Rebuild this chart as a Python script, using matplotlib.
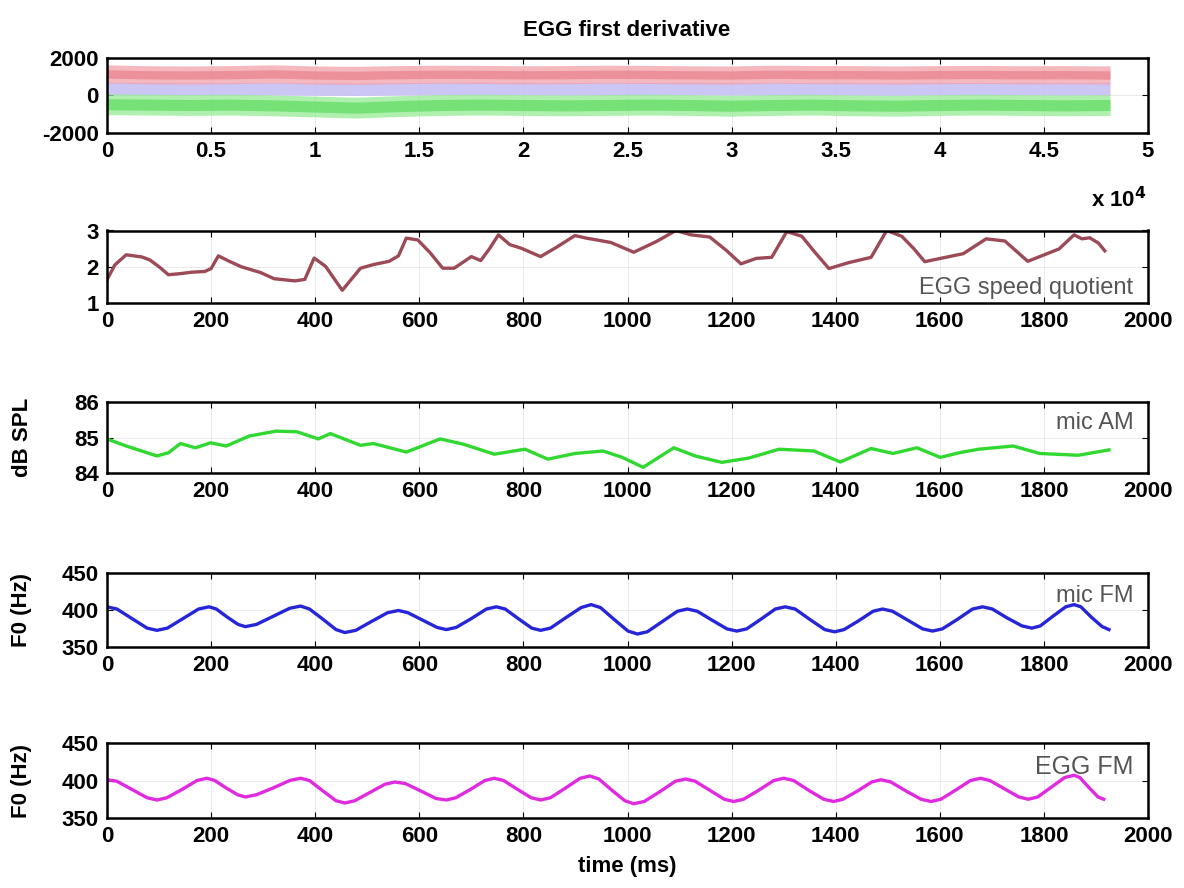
# -*- coding: utf-8 -*-
# EGG first derivative + speed quotient / AM / FM panels
import matplotlib
matplotlib.use('Agg')
import matplotlib.pyplot as plt

# --- panel 1: EGG first derivative bands (x in samples) ---
band_x = [0, 2000, 4000, 6000, 8000, 10000, 12000, 14000, 16000, 18000, 20000, 22000, 24000,
          26000, 28000, 30000, 32000, 34000, 36000, 38000, 40000, 42000, 44000, 46000, 48200]
red_c = [1100, 1050, 1040, 1060, 1100, 1040, 1020, 1060, 1080, 1070, 1050, 1060, 1080,
         1070, 1050, 1040, 1080, 1060, 1060, 1040, 1060, 1070, 1050, 1060, 1040]
lav_c = [320, 310, 300, 300, 310, 290, 280, 300, 310, 320, 310, 300, 300,
         310, 320, 300, 300, 310, 300, 290, 310, 300, 310, 300, 300]
green_c = [-520, -540, -560, -540, -580, -640, -700, -620, -560, -540, -560, -580, -560,
           -540, -560, -600, -560, -540, -580, -600, -560, -540, -560, -580, -560]

# --- panel 2: EGG speed quotient ---
sq_t = [0, 15, 37, 67, 82, 100, 118, 141, 163, 188, 200, 214, 235, 258, 295, 321, 361, 380, 398, 420,
        452, 487, 512, 542, 560, 575, 597, 620, 645, 667, 700, 718, 735, 752, 774, 796, 833, 865, 899, 921,
        968, 1012, 1056, 1093, 1122, 1158, 1190, 1218, 1247, 1277, 1306, 1335, 1360, 1387, 1424, 1468,
        1498, 1527, 1550, 1571, 1601, 1645, 1689, 1725, 1769, 1806, 1829, 1858, 1873, 1888, 1905, 1917]
sq_v = [1.64, 2.05, 2.33, 2.27, 2.19, 2.0, 1.78, 1.81, 1.85, 1.87, 1.95, 2.30, 2.15, 2.0, 1.84, 1.67,
        1.61, 1.65, 2.24, 2.01, 1.35, 1.96, 2.06, 2.15, 2.3, 2.79, 2.74, 2.4, 1.96, 1.96, 2.28, 2.17,
        2.5, 2.88, 2.61, 2.51, 2.28, 2.55, 2.86, 2.79, 2.67, 2.40, 2.70, 3.0, 2.88, 2.82, 2.45, 2.08,
        2.23, 2.26, 2.97, 2.84, 2.4, 1.95, 2.11, 2.26, 3.0, 2.84, 2.5, 2.14, 2.23, 2.36, 2.77, 2.71,
        2.15, 2.36, 2.49, 2.88, 2.77, 2.80, 2.65, 2.44]

# --- panel 3: mic AM (dB SPL) ---
am_t = [0, 37, 96, 118, 141, 170, 199, 229, 273, 325, 365, 406, 429, 487, 512, 575, 640, 685, 744, 803,
        847, 899, 953, 990, 1030, 1089, 1130, 1181, 1233, 1291, 1358, 1409, 1468, 1510, 1556, 1601,
        1640, 1675, 1704, 1741, 1792, 1866, 1925]
am_v = [84.96, 84.76, 84.48, 84.57, 84.83, 84.71, 84.85, 84.76, 85.04, 85.18, 85.16, 84.96, 85.11,
        84.78, 84.83, 84.59, 84.96, 84.81, 84.53, 84.67, 84.39, 84.55, 84.62, 84.44, 84.16, 84.71,
        84.48, 84.30, 84.42, 84.67, 84.62, 84.31, 84.69, 84.55, 84.71, 84.44, 84.58, 84.67, 84.71,
        84.76, 84.55, 84.50, 84.65]

# --- panel 4: mic FM (Hz) ---
mfm_t = [0, 19, 48, 77, 96, 116, 146, 176, 196, 210, 231, 252, 266, 287, 319, 351, 372, 389, 415, 440,
         457, 478, 508, 539, 560, 578, 606, 634, 652, 671, 700, 729, 748, 765, 790, 816, 833, 852, 881,
         911, 930, 948, 974, 1001, 1019, 1038, 1067, 1096, 1115, 1134, 1162, 1191, 1210, 1229, 1256,
         1284, 1303, 1322, 1350, 1379, 1398, 1416, 1444, 1472, 1490, 1509, 1538, 1567, 1586, 1605,
         1634, 1663, 1682, 1701, 1729, 1758, 1777, 1793, 1817, 1842, 1858, 1871, 1891, 1912, 1925]
mfm_v = [404, 401, 388, 375, 372, 375, 388, 401, 404, 401, 390, 380, 377, 380, 391, 402, 405, 401, 387,
         373, 369, 372, 384, 396, 399, 396, 386, 376, 373, 376, 388, 401, 404, 401, 388, 375, 372, 375,
         389, 403, 407, 403, 387, 371, 367, 370, 384, 398, 401, 398, 386, 374, 371, 374, 387, 401, 404,
         401, 387, 373, 370, 373, 385, 398, 401, 398, 386, 374, 371, 374, 387, 401, 404, 401, 389, 378,
         375, 378, 391, 404, 407, 404, 390, 377, 373]

# --- panel 5: EGG FM (Hz) ---
efm_t = [0, 19, 48, 77, 96, 115, 144, 173, 192, 207, 229, 251, 266, 287, 319, 351, 372, 389, 415, 440,
         457, 476, 505, 534, 553, 573, 603, 632, 652, 670, 698, 726, 744, 762, 789, 815, 833, 852, 881,
         909, 928, 945, 970, 995, 1012, 1032, 1062, 1092, 1112, 1130, 1158, 1186, 1204, 1223, 1252,
         1281, 1300, 1319, 1348, 1377, 1396, 1414, 1442, 1469, 1487, 1506, 1535, 1564, 1583, 1602,
         1630, 1659, 1678, 1696, 1724, 1752, 1770, 1788, 1814, 1840, 1858, 1869, 1886, 1904, 1915]
efm_v = [401, 399, 388, 377, 374, 377, 388, 400, 403, 400, 390, 381, 378, 381, 390, 400, 403, 400, 386,
         373, 370, 373, 384, 395, 398, 396, 386, 376, 374, 377, 388, 400, 403, 400, 388, 377, 374, 377,
         390, 403, 406, 402, 387, 373, 369, 372, 385, 399, 402, 399, 387, 375, 372, 375, 387, 400, 403,
         400, 387, 375, 372, 375, 386, 398, 401, 398, 386, 375, 372, 375, 387, 400, 403, 400, 389, 378,
         375, 378, 391, 404, 407, 404, 391, 378, 375]

W, H = 1184.0, 888.0
LEFT, RIGHT = 107, 1148
# (top, bottom) of each panel in pixels
boxes = [(57.5, 132.5), (230.5, 303), (402, 473), (573, 646.5), (743, 818)]

ms_ticks = [0, 200, 400, 600, 800, 1000, 1200, 1400, 1600, 1800, 2000]

plt.rcParams['font.family'] = ['Liberation Sans', 'DejaVu Sans']
plt.rcParams['font.weight'] = 'bold'
plt.rcParams['mathtext.default'] = 'bf'
plt.rcParams['axes.unicode_minus'] = False

fig = plt.figure(figsize=(W / 100, H / 100), dpi=100)
axes = []
for top, bot in boxes:
    ax = fig.add_axes([LEFT / W, 1 - bot / H, (RIGHT - LEFT) / W, (bot - top) / H])
    ax.tick_params(direction='in', length=4, width=0.8, top=True, right=True,
                   pad=6, labelsize=16)
    ax.grid(True, color='#e6e6e6', lw=0.6)
    ax.set_axisbelow(True)
    for s in ax.spines.values():
        s.set_linewidth(1.8)
    axes.append(ax)

# panel 1
ax = axes[0]
ax.plot(band_x, lav_c, color='#c4bcf4', lw=9, alpha=0.85, solid_capstyle='butt')
ax.plot(band_x, red_c, color='#f39aa4', lw=13, alpha=0.7, solid_capstyle='butt')
ax.plot(band_x, red_c, color='#e0606e', lw=6, alpha=0.45, solid_capstyle='butt')
ax.plot(band_x, green_c, color='#8eea8e', lw=15, alpha=0.7, solid_capstyle='butt')
ax.plot(band_x, green_c, color='#3ed43e', lw=8, alpha=0.5, solid_capstyle='butt')
ax.set_xlim(0, 50000)
ax.set_ylim(-2000, 2000)
ax.set_xticks([0, 5000, 10000, 15000, 20000, 25000, 30000, 35000, 40000, 45000, 50000])
ax.set_xticklabels(['0', '0.5', '1', '1.5', '2', '2.5', '3', '3.5', '4', '4.5', '5'])
ax.set_yticks([-2000, 0, 2000])

# panel 2
ax = axes[1]
ax.plot(sq_t, sq_v, color='#9c4a55', lw=2.4)
ax.set_ylim(1, 3)
ax.set_yticks([1, 2, 3])
ax.text(0.986, 0.21, 'EGG speed quotient', transform=ax.transAxes, ha='right', va='center',
        fontsize=17, fontweight='normal', color='#555555')

# panel 3
ax = axes[2]
ax.plot(am_t, am_v, color='#30d830', lw=2.4)
ax.set_ylim(84, 86)
ax.set_yticks([84, 85, 86])
ax.text(0.986, 0.71, 'mic AM', transform=ax.transAxes, ha='right', va='center',
        fontsize=17, fontweight='normal', color='#555555')

# panel 4
ax = axes[3]
ax.plot(mfm_t, mfm_v, color='#2626d8', lw=2.4)
ax.set_ylim(350, 450)
ax.set_yticks([350, 400, 450])
ax.text(0.986, 0.69, 'mic FM', transform=ax.transAxes, ha='right', va='center',
        fontsize=17, fontweight='normal', color='#555555')

# panel 5
ax = axes[4]
ax.plot(efm_t, efm_v, color='#e02ae0', lw=2.4)
ax.set_ylim(350, 450)
ax.set_yticks([350, 400, 450])
ax.text(0.986, 0.68, 'EGG FM', transform=ax.transAxes, ha='right', va='center',
        fontsize=18, fontweight='normal', color='#555555')

for ax in axes[1:]:
    ax.set_xlim(0, 2000)
    ax.set_xticks(ms_ticks)

# labels
fig.text(627 / W, 1 - 30 / H, 'EGG first derivative', ha='center', va='center', fontsize=16)
fig.text(1147 / W, 1 - 200 / H, r'x 10$^{4}$', ha='right', va='center', fontsize=16)
fig.text(627 / W, 1 - 866 / H, 'time (ms)', ha='center', va='center', fontsize=16)
for i, lab in [(2, 'dB SPL'), (3, 'F0 (Hz)'), (4, 'F0 (Hz)')]:
    top, bot = boxes[i]
    fig.text(22 / W, 1 - (top + bot) / 2 / H, lab, rotation=90, ha='center', va='center',
             fontsize=16)

fig.savefig('out.png', dpi=100)
